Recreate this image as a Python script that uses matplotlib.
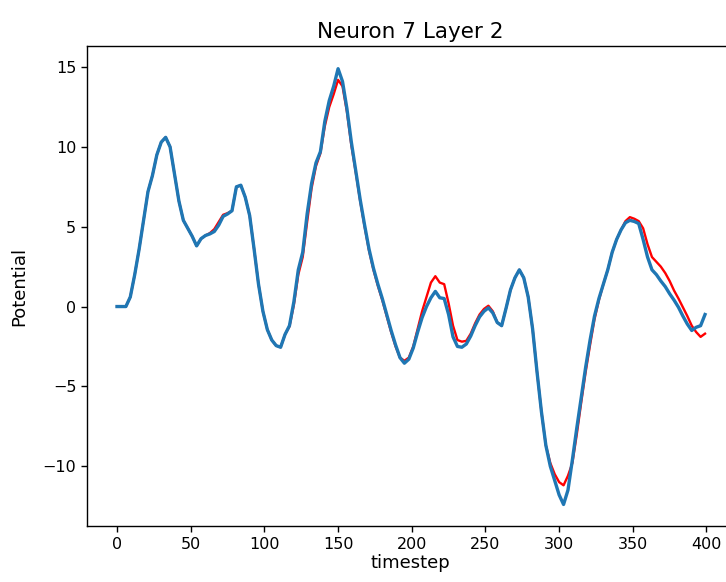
import matplotlib
matplotlib.use("Agg")
import matplotlib.pyplot as plt

# membrane potential of neuron 7 (layer 2), sampled every 3 timesteps
timestep = list(range(0, 400, 3))

potential_ref = [
    0.0, 0.0, 0.0, 0.6, 2.0, 3.6, 5.4, 7.2, 8.2, 9.5,
    10.3, 10.6, 10.0, 8.3, 6.6, 5.4, 4.9, 4.4, 3.8, 4.25,
    4.45, 4.55, 4.7, 5.1, 5.65, 5.8, 6.0, 7.5, 7.6, 6.85,
    5.7, 3.6, 1.4, -0.3, -1.45, -2.1, -2.45, -2.55, -1.75, -1.2,
    0.3, 2.3, 3.4, 5.8, 7.7, 9.0, 9.7, 11.6, 12.9, 13.8,
    14.9, 14.1, 12.4, 10.3, 8.5, 6.7, 5.1, 3.6, 2.4, 1.4,
    0.5, -0.5, -1.5, -2.4, -3.2, -3.55, -3.3, -2.6, -1.6, -0.7,
    0.0, 0.55, 0.95, 0.55, 0.5, -0.5, -1.9, -2.5, -2.55, -2.35,
    -1.85, -1.2, -0.65, -0.3, -0.08, -0.4, -1.0, -1.2, -0.1, 1.05,
    1.8, 2.3, 1.8, 0.6, -1.4, -4.1, -6.6, -8.7, -10.0, -10.9,
    -11.8, -12.4, -11.5, -9.6, -7.6, -5.7, -3.8, -2.1, -0.6, 0.5,
    1.4, 2.3, 3.4, 4.2, 4.8, 5.25, 5.4, 5.33, 5.2, 4.2,
    3.1, 2.3, 2.0, 1.6, 1.25, 0.8, 0.4, -0.05, -0.6, -1.1,
    -1.5, -1.3, -1.2, -0.5,
]

potential_out = [
    0.0, 0.0, 0.0, 0.6, 2.0, 3.6, 5.4, 7.2, 8.2, 9.5,
    10.3, 10.6, 10.0, 8.3, 6.6, 5.4, 4.9, 4.4, 3.8, 4.25,
    4.45, 4.6, 4.85, 5.3, 5.75, 5.85, 6.0, 7.5, 7.6, 6.85,
    5.7, 3.6, 1.4, -0.3, -1.45, -2.1, -2.45, -2.55, -1.75, -1.25,
    0.1, 2.0, 3.1, 5.3, 7.4, 8.8, 9.6, 11.3, 12.5, 13.3,
    14.2, 13.8, 12.2, 10.1, 8.4, 6.6, 5.0, 3.5, 2.3, 1.3,
    0.4, -0.6, -1.6, -2.5, -3.2, -3.4, -3.2, -2.5, -1.4, -0.3,
    0.6, 1.5, 1.9, 1.5, 1.4, 0.2, -1.2, -2.1, -2.2, -2.15,
    -1.7, -1.05, -0.5, -0.15, 0.05, -0.3, -1.0, -1.2, -0.1, 1.05,
    1.8, 2.3, 1.8, 0.6, -1.4, -4.1, -6.6, -8.7, -9.8, -10.5,
    -11.0, -11.2, -10.6, -9.8, -8.0, -6.0, -4.1, -2.4, -0.8, 0.4,
    1.4, 2.3, 3.4, 4.2, 4.8, 5.35, 5.6, 5.5, 5.35, 4.9,
    3.9, 3.1, 2.8, 2.5, 2.1, 1.6, 1.0, 0.5, -0.05, -0.6,
    -1.2, -1.6, -1.9, -1.7,
]

fig = plt.figure(figsize=(7.26, 5.82), dpi=100)
ax = fig.add_axes([0.1198, 0.0962, 0.8919, 0.8247])

ax.plot(timestep, potential_out, color="red", linewidth=1.7)
ax.plot(timestep, potential_ref, color="#1f77b4", linewidth=2.4)

ax.set_xlim(-20.4, 419)
ax.set_ylim(-13.75, 16.32)
ax.set_xticks([0, 50, 100, 150, 200, 250, 300, 350, 400])
ax.set_yticks([-10, -5, 0, 5, 10, 15])

ax.set_title("Neuron 7 Layer 2", fontsize=15.5, pad=6)
ax.set_xlabel("timestep", fontsize=13, labelpad=2)
ax.set_ylabel("Potential", fontsize=13, labelpad=10.5)
ax.tick_params(labelsize=11.5, length=4.2, width=1.0)
for spine in ax.spines.values():
    spine.set_linewidth(1.0)

plt.savefig("out.png", dpi=100)
